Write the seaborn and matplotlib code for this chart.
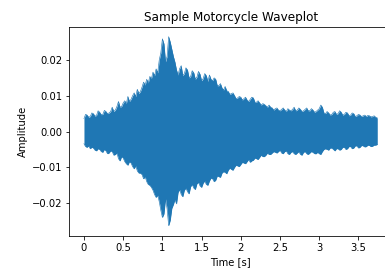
import numpy as np
import pandas as pd
import matplotlib
matplotlib.use("Agg")
import matplotlib.pyplot as plt
import seaborn as sns

# waveform envelope, one value every 0.02 s from 0 to 3.74 s
# amplitudes in units of 1e-3
time_s = np.round(np.arange(0, 3.741, 0.02), 2)

upper_env = [
    3.6, 4.8, 4.6, 4.0, 4.2, 5.2, 5.0, 4.3, 4.5, 5.8,
    5.4, 4.7, 4.8, 5.9, 5.6, 5.0, 5.2, 5.6, 6.8, 5.6,
    6.0, 7.0, 8.4, 6.8, 7.0, 8.0, 8.6, 7.8, 9.8, 8.4,
    9.0, 10.0, 10.8, 9.8, 11.8, 10.6, 11.2, 12.4, 13.8, 13.0,
    14.6, 13.6, 15.4, 14.8, 16.6, 15.6, 17.5, 16.4, 20.0, 22.0,
    25.9, 24.5, 19.5, 21.0, 26.5, 25.0, 23.0, 21.0, 19.4, 17.2,
    15.8, 17.6, 18.4, 15.6, 16.2, 17.8, 17.2, 15.0, 15.4, 17.0,
    16.4, 14.6, 15.2, 16.8, 16.0, 14.2, 14.8, 16.2, 15.6, 14.0,
    15.8, 14.6, 14.2, 15.0, 14.6, 12.8, 12.8, 13.4, 12.2, 11.6,
    12.6, 11.4, 11.2, 10.4, 10.6, 10.8, 10.0, 9.2, 9.4, 9.8,
    9.6, 8.8, 9.2, 9.6, 8.8, 8.4, 9.0, 9.6, 9.4, 8.2,
    8.2, 8.6, 8.0, 7.4, 7.8, 7.6, 7.2, 6.8, 7.4, 6.8,
    6.6, 6.0, 6.4, 6.6, 6.0, 5.8, 6.2, 6.6, 6.0, 5.6,
    6.4, 6.0, 5.8, 6.2, 6.8, 5.8, 6.0, 6.6, 6.2, 5.6,
    5.8, 6.2, 6.6, 5.8, 5.8, 6.4, 6.0, 5.4, 5.6, 6.0,
    6.4, 7.4, 6.8, 5.2, 5.0, 5.6, 5.2, 4.6, 4.8, 5.4,
    5.6, 4.8, 5.0, 5.8, 5.4, 4.6, 4.8, 5.4, 5.2, 4.4,
    4.6, 5.2, 5.0, 4.2, 4.4, 4.8, 4.6, 4.2, 4.4, 4.6,
    4.2, 4.5, 4.4, 4.1, 4.2, 4.4, 4.0, 3.8,
]
lower_env = [
    -3.4, -4.2, -4.4, -4.0, -4.8, -4.4, -4.6, -5.2, -5.4, -4.8,
    -5.0, -5.6, -5.8, -5.0, -5.4, -6.2, -6.0, -5.4, -5.6, -6.6,
    -6.4, -6.0, -7.6, -8.2, -7.0, -7.4, -8.4, -9.0, -9.4, -8.4,
    -8.8, -9.8, -10.4, -9.6, -11.0, -11.6, -11.6, -12.0, -13.2, -12.6,
    -14.0, -14.8, -15.0, -15.6, -16.4, -17.6, -18.4, -17.8, -19.6, -22.0,
    -24.0, -23.0, -18.8, -21.6, -26.3, -24.8, -21.5, -20.4, -19.0, -20.2,
    -17.0, -16.2, -17.6, -18.2, -16.4, -15.8, -16.8, -17.4, -15.4, -14.8,
    -15.8, -16.2, -14.6, -14.2, -15.2, -15.6, -14.4, -13.8, -14.8, -15.0,
    -13.8, -13.0, -13.2, -14.0, -13.6, -12.4, -12.6, -12.8, -11.6, -11.2,
    -11.4, -11.8, -10.8, -10.2, -10.6, -10.8, -10.0, -9.4, -9.6, -9.8,
    -9.2, -8.6, -8.8, -9.0, -8.4, -7.8, -8.6, -8.2, -8.0, -7.4,
    -7.6, -7.8, -7.2, -6.6, -7.0, -7.0, -6.6, -6.0, -6.4, -6.4,
    -6.0, -5.6, -5.8, -6.0, -5.6, -5.2, -6.0, -6.2, -5.6, -5.4,
    -6.2, -6.4, -5.8, -5.6, -6.2, -6.4, -6.0, -5.6, -6.4, -6.6,
    -5.8, -5.6, -6.2, -6.4, -6.0, -5.6, -5.8, -6.2, -6.2, -5.8,
    -6.2, -6.4, -5.6, -5.0, -4.8, -5.0, -5.2, -4.6, -4.6, -5.0,
    -5.4, -4.8, -4.8, -5.2, -5.0, -4.4, -4.4, -5.0, -4.8, -4.2,
    -4.2, -4.8, -4.6, -4.0, -4.0, -4.6, -4.4, -3.9, -4.0, -4.3,
    -4.2, -3.8, -3.9, -4.2, -4.1, -3.8, -3.8, -3.6,
]

df = pd.DataFrame({
    "Time": time_s,
    "Upper": np.array(upper_env) / 1000,
    "Lower": np.array(lower_env) / 1000,
})

fig = plt.figure(figsize=(385 / 72, 268 / 72), dpi=72)
ax = fig.add_axes([69.3 / 385, 0.1205, 0.838, 0.78])

color = "#1f77b4"
ax.fill_between(df["Time"], df["Lower"], df["Upper"], color=color, linewidth=0)
sns.lineplot(x="Time", y="Upper", data=df, ax=ax, color=color, linewidth=0.6)
sns.lineplot(x="Time", y="Lower", data=df, ax=ax, color=color, linewidth=0.6)

ax.set_xlim(-0.187, 3.927)
ax.set_ylim(-0.0291, 0.0293)
ax.set_xticks([0, 0.5, 1, 1.5, 2, 2.5, 3, 3.5])
ax.set_xticklabels(["0", "0.5", "1", "1.5", "2", "2.5", "3", "3.5"])
ax.set_yticks([-0.02, -0.01, 0.0, 0.01, 0.02])
ax.set_title("Sample Motorcycle Waveplot")
ax.set_xlabel("Time [s]")
ax.set_ylabel("Amplitude")

fig.savefig("out.png", dpi=72)
